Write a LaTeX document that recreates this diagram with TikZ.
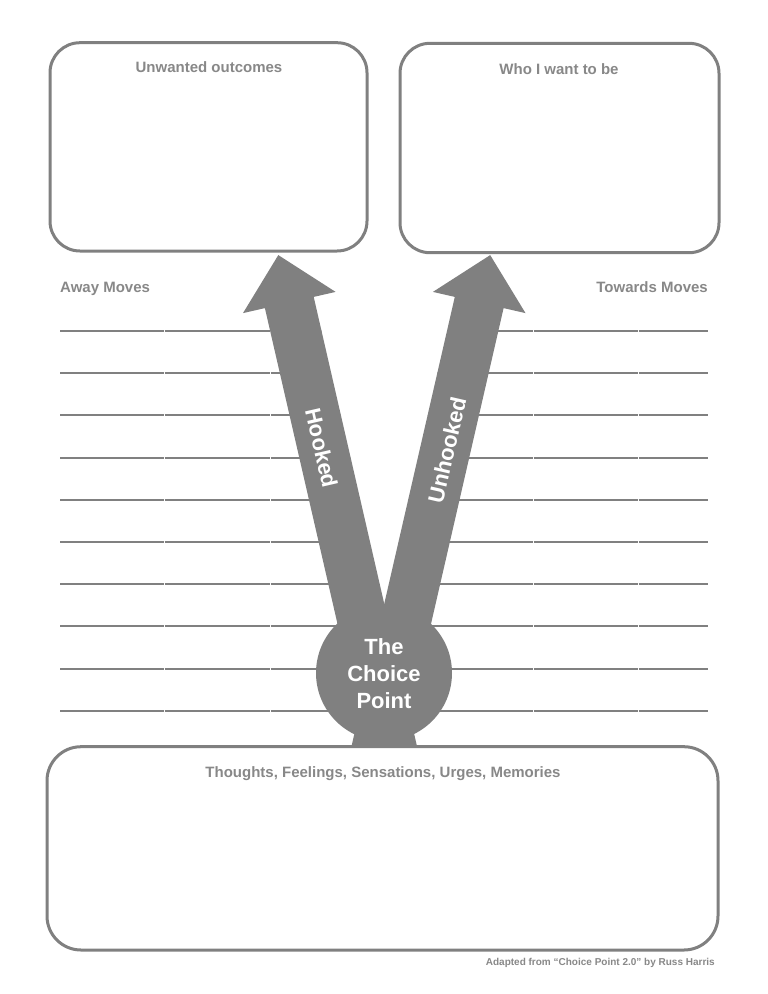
\documentclass[tikz,border=0pt]{standalone}
\usepackage{fontspec}
\setmainfont{Liberation Sans}
\definecolor{linegray}{RGB}{128,128,128}
\definecolor{textgray}{RGB}{136,136,136}
\tikzset{
  panel/.style={draw=linegray, line width=3pt, fill=white, rounded corners=30pt},
  title/.style={text=textgray, font=\fontsize{15}{18}\selectfont\bfseries, inner sep=0pt},
  ruled/.style={draw=linegray, line width=2pt},
  arrowshape/.style={fill=linegray, draw=none},
  arrowlabel/.style={text=white, font=\fontsize{22}{26}\selectfont\bfseries, inner sep=0pt},
  footer/.style={text=textgray, font=\fontsize{10}{12}\selectfont\bfseries, inner sep=0pt}
}
\begin{document}
\begin{tikzpicture}[x=1pt,y=-1pt]
\useasboundingbox (0,0) rectangle (768,994);
\fill[white] (0,0) rectangle (768,994);

% writing lines
\foreach \i in {0,...,9}{
  \pgfmathsetmacro{\yy}{331+42.2*\i}
  \draw[ruled] (60,\yy) -- (163.5,\yy);
  \draw[ruled] (164.5,\yy) -- (269.5,\yy);
  \draw[ruled] (270.5,\yy) -- (384.25,\yy);
  \draw[ruled] (384.25,\yy) -- (532.5,\yy);
  \draw[ruled] (533.5,\yy) -- (637.5,\yy);
  \draw[ruled] (638.5,\yy) -- (708,\yy);
}
% white space inside the V
\fill[white] (384.25,605.8) -- (314.4,300) -- (454.1,300) -- cycle;

% Hooked arrow
\fill[arrowshape] (371.8,773.1) -- (264.9,308.1) -- (243.0,313.1) -- (278.3,255.1)
  -- (335.6,291.9) -- (313.7,296.9) -- (420.6,761.9) -- cycle;
% Unhooked arrow
\fill[arrowshape] (396.7,773.1) -- (503.6,308.1) -- (525.5,313.1) -- (490.2,255.1)
  -- (432.9,291.9) -- (454.8,296.9) -- (347.9,761.9) -- cycle;
% stem and choice point
\fill[arrowshape] (356.5,760) -- (359.5,725) -- (409,725) -- (412,760) -- cycle;
\node[circle, fill=linegray, minimum size=136pt, inner sep=0pt] (cp) at (384,673) {};
\node[arrowlabel, align=center, font=\fontsize{22}{26.7}\selectfont\bfseries] (cptext) at (384,673.5) {The\\Choice\\Point};

\node[arrowlabel, rotate=-77.05] (hooked) at (321.5,448) {Hooked};
\node[arrowlabel, rotate=77.05] (unhooked) at (447,450) {Unhooked};

% panels
\draw[panel] (50,42.7) rectangle (367,251);
\draw[panel] (400,43.3) rectangle (719,252.7);
\draw[panel, rounded corners=34pt] (47,746.7) rectangle (718,950);

\node[title, anchor=base] (t1) at (209,72.5) {Unwanted outcomes};
\node[title, anchor=base] (t2) at (559,74.5) {Who I want to be};
\node[title, anchor=base] (t3) at (383,777.2) {Thoughts, Feelings, Sensations, Urges, Memories};
\node[title, anchor=base west] (away) at (60,292.2) {Away Moves};
\node[title, anchor=base east] (towards) at (708,292.2) {Towards Moves};
\node[footer, anchor=base east] (credit) at (715,965.2) {Adapted from “Choice Point 2.0” by Russ Harris};
\end{tikzpicture}
\end{document}
